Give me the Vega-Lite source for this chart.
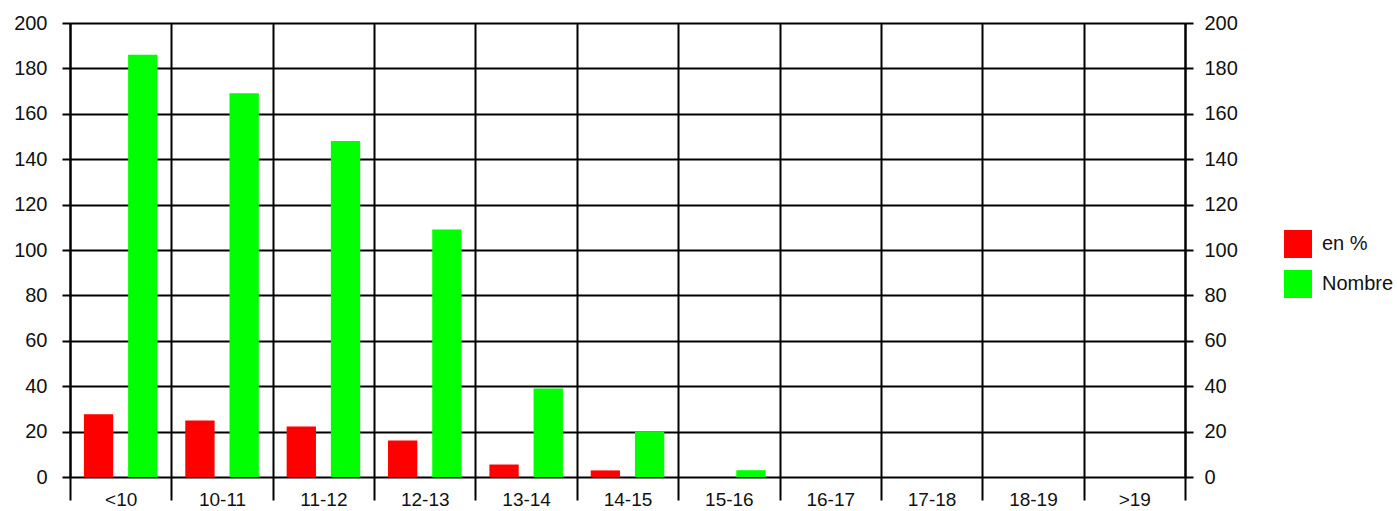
{
  "$schema": "https://vega.github.io/schema/vega-lite/v6.json",
  "width": 1115,
  "height": 454,
  "autosize": {"type": "none"},
  "padding": {"left": 70, "top": 23, "right": 212, "bottom": 34},
  "background": "white",
  "config": {
    "view": {"stroke": null},
    "font": "Liberation Sans",
    "axis": {"labelFont": "Liberation Sans", "labelColor": "#111111"},
    "legend": {"labelFont": "Liberation Sans", "labelColor": "#111111"}
  },
  "data": {
    "values": [
      {"cat": "<10", "serie": "en %", "value": 27.6},
      {"cat": "<10", "serie": "Nombre", "value": 186},
      {"cat": "10-11", "serie": "en %", "value": 24.9},
      {"cat": "10-11", "serie": "Nombre", "value": 169},
      {"cat": "11-12", "serie": "en %", "value": 22.2},
      {"cat": "11-12", "serie": "Nombre", "value": 148},
      {"cat": "12-13", "serie": "en %", "value": 16.1},
      {"cat": "12-13", "serie": "Nombre", "value": 109},
      {"cat": "13-14", "serie": "en %", "value": 5.5},
      {"cat": "13-14", "serie": "Nombre", "value": 39},
      {"cat": "14-15", "serie": "en %", "value": 2.9},
      {"cat": "14-15", "serie": "Nombre", "value": 20},
      {"cat": "15-16", "serie": "en %", "value": 0},
      {"cat": "15-16", "serie": "Nombre", "value": 3},
      {"cat": "16-17", "serie": "en %", "value": 0},
      {"cat": "16-17", "serie": "Nombre", "value": 0},
      {"cat": "17-18", "serie": "en %", "value": 0},
      {"cat": "17-18", "serie": "Nombre", "value": 0},
      {"cat": "18-19", "serie": "en %", "value": 0},
      {"cat": "18-19", "serie": "Nombre", "value": 0},
      {"cat": ">19", "serie": "en %", "value": 0},
      {"cat": ">19", "serie": "Nombre", "value": 0}
    ]
  },
  "encoding": {
    "x": {
      "field": "cat",
      "type": "nominal",
      "sort": ["<10", "10-11", "11-12", "12-13", "13-14", "14-15", "15-16", "16-17", "17-18", "18-19", ">19"],
      "scale": {"paddingInner": 0, "paddingOuter": 0},
      "axis": {
        "title": null,
        "tickBand": "extent",
        "grid": true,
        "gridColor": "#000000",
        "gridOpacity": 1,
        "gridWidth": 2,
        "domain": false,
        "ticks": true,
        "tickSize": 23,
        "tickColor": "#000000",
        "tickWidth": 2,
        "labelAngle": 0,
        "labelFontSize": 19,
        "labelPadding": -10
      }
    },
    "xOffset": {
      "field": "serie",
      "type": "nominal",
      "sort": ["en %", "Nombre"],
      "scale": {"paddingInner": 0.337, "paddingOuter": 0.315}
    },
    "color": {
      "field": "serie",
      "type": "nominal",
      "sort": ["en %", "Nombre"],
      "scale": {"domain": ["en %", "Nombre"], "range": ["#ff0000", "#00ff00"]},
      "legend": {
        "title": null,
        "orient": "none",
        "legendX": 1214,
        "legendY": 207,
        "symbolType": "square",
        "symbolSize": 784,
        "symbolStrokeWidth": 0,
        "symbolOpacity": 1,
        "labelFontSize": 20,
        "labelOffset": 10,
        "rowPadding": 12,
        "padding": 0
      }
    }
  },
  "layer": [
    {
      "mark": {"type": "bar"},
      "encoding": {
        "y": {
          "field": "value",
          "type": "quantitative",
          "scale": {"domain": [0, 200], "nice": false},
          "axis": {
            "orient": "left",
            "title": null,
            "values": [0, 20, 40, 60, 80, 100, 120, 140, 160, 180, 200],
            "grid": true,
            "gridColor": "#000000",
            "gridOpacity": 1,
            "gridWidth": 2,
            "domainColor": "#000000",
            "domainWidth": 2,
            "tickColor": "#000000",
            "tickWidth": 2,
            "tickSize": 8,
            "labelFontSize": 20,
            "labelPadding": 15
          }
        }
      }
    },
    {
      "mark": {"type": "bar", "opacity": 0},
      "encoding": {
        "y": {
          "field": "value",
          "type": "quantitative",
          "scale": {"domain": [0, 200], "nice": false},
          "axis": {
            "orient": "right",
            "title": null,
            "values": [0, 20, 40, 60, 80, 100, 120, 140, 160, 180, 200],
            "grid": false,
            "domainColor": "#000000",
            "domainWidth": 2,
            "tickColor": "#000000",
            "tickWidth": 2,
            "tickSize": 8,
            "labelFontSize": 20,
            "labelPadding": 11
          }
        }
      }
    }
  ],
  "resolve": {"axis": {"y": "independent"}}
}
